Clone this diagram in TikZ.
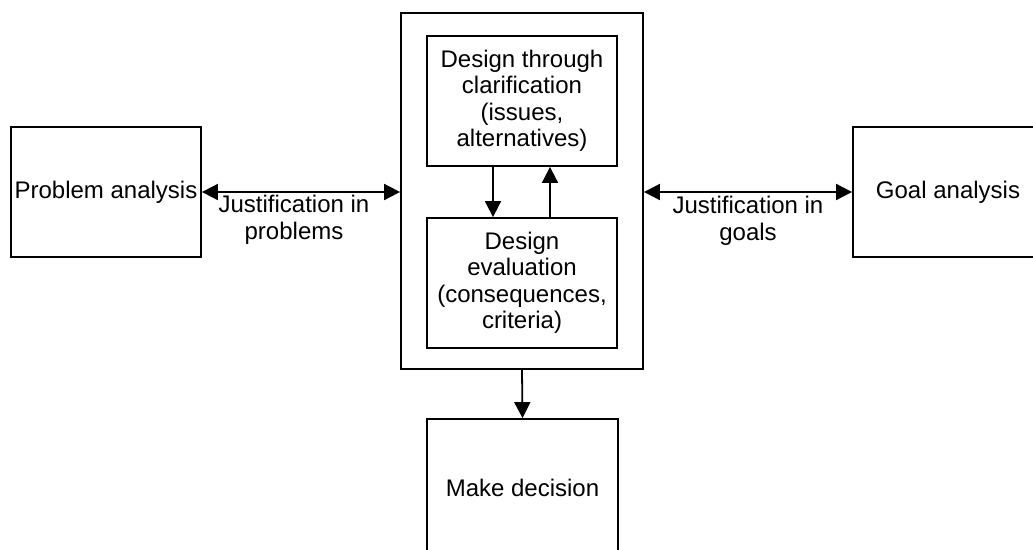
\documentclass[tikz,border=0pt]{standalone}
\usepackage{fontspec}
\setmainfont{Liberation Sans}
\usetikzlibrary{arrows.meta}
\begin{document}
\begin{tikzpicture}[x=1pt,y=-1pt,
  box/.style={draw,line width=1.8pt,rectangle,inner sep=0pt,align=center,
    font=\fontsize{24}{26.5}\selectfont},
  link/.style={line width=1.8pt,-{Triangle[length=16pt,width=16pt]}},
  twoway/.style={line width=1.8pt,{Triangle[length=16pt,width=16pt]}-{Triangle[length=16pt,width=16pt]}},
  lbl/.style={align=center,inner sep=0pt,font=\fontsize{24}{26.5}\selectfont}]
\useasboundingbox (0,0) rectangle (1033,549);
\clip (0,0) rectangle (1033,549);

% outer frame and the two design steps inside it
\node[box,minimum width=242pt,minimum height=356pt] (outer) at (522,191) {};
\node[box,minimum width=190pt,minimum height=130pt] (clar) at (522,101)
  {Design through\\clarification\\(issues,\\alternatives)};
\node[box,minimum width=190pt,minimum height=130pt] (eval) at (522,283)
  {Design\\evaluation\\(consequences,\\criteria)};

% surrounding analyses and the decision
\node[box,minimum width=190pt,minimum height=130pt] (prob) at (106,192) {Problem analysis};
\node[box,minimum width=190pt,minimum height=130pt] (goal) at (948,192) {Goal analysis};
\node[box,minimum width=191pt,minimum height=138pt] (dec) at (522.5,488) {Make decision};

% connectors
\draw[twoway] (prob.east) -- (prob.east -| outer.west);
\draw[twoway] (goal.west -| outer.east) -- (goal.west);
\draw[link] ([xshift=-29pt]clar.south) -- ([xshift=-29pt]eval.north);
\draw[link] ([xshift=28pt]eval.north) -- ([xshift=28pt]clar.south);
\draw[link] (outer.south) -- (dec.north);

% connector labels
\node[lbl] (jp) at (294,220) {Justification in\\problems};
\node[lbl] (jg) at (748,221) {Justification in\\goals};
\end{tikzpicture}
\end{document}
